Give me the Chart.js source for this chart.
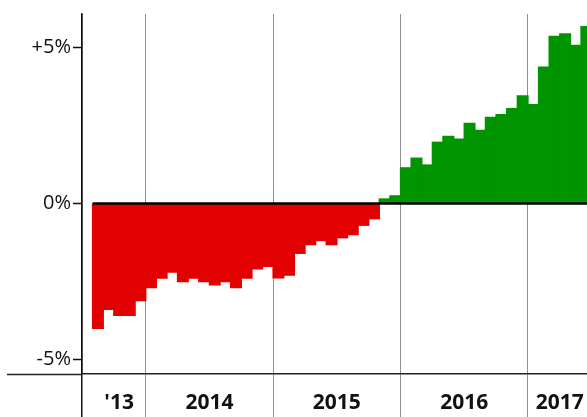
<!DOCTYPE html>
<html>
<head>
<meta charset="utf-8">
<script src="https://cdn.jsdelivr.net/npm/chart.js@4/dist/chart.umd.min.js"></script>
<style>
  html, body { margin: 0; padding: 0; background: #fff; overflow: hidden; }
  #wrap { width: 587px; height: 417px; }
</style>
</head>
<body>
<div id="wrap"><canvas id="c" width="587" height="417"></canvas></div>
<script>
// ---- data ----
const months = [
  '2013-08','2013-09','2013-10','2013-11','2013-12',
  '2014-01','2014-02','2014-03','2014-04','2014-05','2014-06','2014-07','2014-08','2014-09','2014-10','2014-11','2014-12',
  '2015-01','2015-02','2015-03','2015-04','2015-05','2015-06','2015-07','2015-08','2015-09','2015-10','2015-11','2015-12',
  '2016-01','2016-02','2016-03','2016-04','2016-05','2016-06','2016-07','2016-08','2016-09','2016-10','2016-11','2016-12',
  '2017-01','2017-02','2017-03','2017-04','2017-05','2017-06'
];
const values = [
  -4.01, -3.40, -3.59, -3.59, -3.12,
  -2.70, -2.40, -2.20, -2.51, -2.40, -2.51, -2.61, -2.51, -2.70, -2.40, -2.10, -2.02,
  -2.39, -2.30, -1.60, -1.32, -1.19, -1.32, -1.10, -1.00, -0.70, -0.49, 0.14, 0.24,
  1.14, 1.45, 1.23, 1.96, 2.15, 2.06, 2.57, 2.34, 2.76, 2.85, 3.04, 3.45,
  3.17, 4.37, 5.36, 5.44, 5.07, 5.67
];
const yTickValues = [-5, 0, 5];
const yearLabels = ["'13", '2014', '2015', '2016', '2017'];

// month index: Jan 2013 = 0
function monthIndex(s) { const [y, m] = s.split('-').map(Number); return (y - 2013) * 12 + (m - 1); }
const idx = months.map(monthIndex);
const firstM = idx[0];
const lastM = idx[idx.length - 1] + 1;

// year boundaries and label positions (centre of each year's data span)
const years = [2013, 2014, 2015, 2016, 2017];
const boundaries = years.slice(1).map(y => (y - 2013) * 12);
const labelPos = years.map(y => {
  const s = Math.max((y - 2013) * 12, firstM);
  const e = Math.min((y - 2013) * 12 + 12, lastM);
  return (s + e) / 2;
});

const X_MIN = firstM - 1;
const X_MAX = 53.56;
const Y_MIN = -5.476;
const Y_MAX = 6.08;

const barData = months.map((m, i) => ({ x: idx[i] + 0.5, y: values[i] }));
const zeroLine = [{ x: firstM, y: 0 }, { x: lastM, y: 0 }];

const FONT = "'Open Sans', 'Noto Sans', sans-serif";

new Chart(document.getElementById('c'), {
  data: {
    datasets: [
      {
        type: 'line',
        data: zeroLine,
        borderColor: '#000',
        borderWidth: 2.5,
        pointRadius: 0,
        order: 0,
        yAxisID: 'y'
      },
      {
        type: 'bar',
        data: barData,
        backgroundColor: ctx => (ctx.raw && ctx.raw.y < 0 ? '#e30000' : '#009400'),
        borderWidth: 0,
        inflateAmount: 0.7,
        barPercentage: 1,
        categoryPercentage: 1,
        order: 1,
        yAxisID: 'y'
      }
    ]
  },
  options: {
    responsive: false,
    animation: false,
    devicePixelRatio: 1,
    layout: { padding: { top: 10, left: 0, right: 0, bottom: 0 } },
    plugins: { legend: { display: false }, tooltip: { enabled: false } },
    scales: {
      x: {
        type: 'linear',
        position: 'bottom',
        offset: false,
        min: X_MIN,
        max: X_MAX,
        afterBuildTicks: s => {
          const vals = [X_MIN].concat(boundaries, labelPos).sort((a, b) => a - b);
          s.ticks = vals.map(v => ({ value: v }));
        },
        afterFit: s => { s.height = 43; },
        ticks: {
          autoSkip: false,
          maxRotation: 0,
          padding: -27,
          color: '#111',
          font: { family: FONT, size: 21, weight: 'bold' },
          callback: v => {
            const k = labelPos.indexOf(v);
            return k >= 0 ? yearLabels[k] : '';
          }
        },
        grid: {
          offset: false,
          drawOnChartArea: true,
          tickLength: 43,
          color: ctx => {
            const v = ctx.tick ? ctx.tick.value : null;
            if (v === X_MIN) return '#111';
            if (boundaries.includes(v)) return '#8f8f8f';
            return 'rgba(0,0,0,0)';
          },
          lineWidth: ctx => (ctx.tick && ctx.tick.value === X_MIN ? 1.5 : 1)
        },
        border: { display: true, color: '#222', width: 1.5 }
      },
      y: {
        type: 'linear',
        position: 'left',
        weight: 1,
        min: Y_MIN,
        max: Y_MAX,
        afterBuildTicks: s => { s.ticks = yTickValues.map(v => ({ value: v })); },
        afterFit: s => { s.width = 82; },
        ticks: {
          padding: 2,
          color: '#111',
          font: { family: FONT, size: 20 },
          callback: v => (v > 0 ? '+' + v + '%' : v + '%')
        },
        grid: {
          drawOnChartArea: false,
          tickLength: 9,
          tickColor: '#111',
          tickWidth: 1.5
        },
        border: { display: true, color: '#111', width: 1.5 }
      },
      yb: {
        type: 'linear',
        position: 'left',
        weight: 0,
        min: Y_MIN,
        max: Y_MAX,
        afterBuildTicks: s => { s.ticks = [{ value: Y_MIN }]; },
        afterFit: s => { s.width = 0; },
        ticks: { display: false },
        grid: {
          drawOnChartArea: false,
          tickLength: 75,
          tickColor: '#222',
          tickWidth: 1.5
        },
        border: { display: false }
      }
    }
  }
});
</script>
</body>
</html>
